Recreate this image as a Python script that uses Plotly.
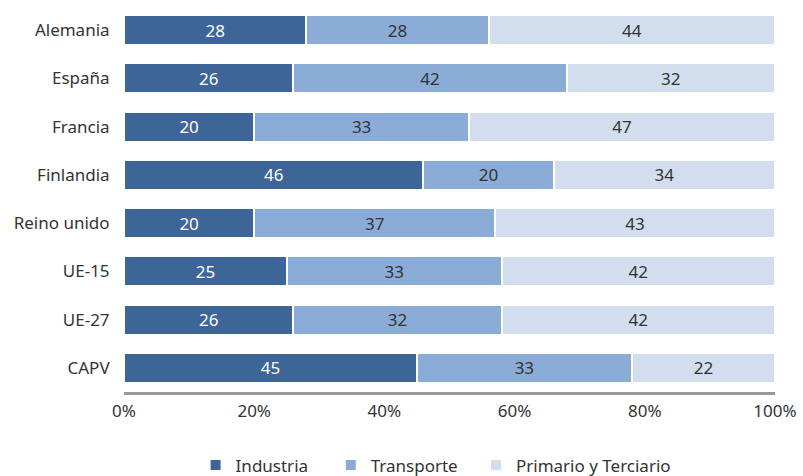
import plotly.graph_objects as go

categories = ["Alemania", "España", "Francia", "Finlandia", "Reino unido", "UE-15", "UE-27", "CAPV"]
industria = [28, 26, 20, 46, 20, 25, 26, 45]
transporte = [28, 42, 33, 20, 37, 33, 32, 33]
primario = [44, 32, 47, 34, 43, 42, 42, 22]
tick_vals = [0, 20, 40, 60, 80, 100]
tick_text = ["0%", "20%", "40%", "60%", "80%", "100%"]

NB = "\u00a0"
series = [
    ("Industria" + NB * 4, industria, "#3D6598", "white"),
    ("Transporte" + NB * 3, transporte, "#8AACD6", "#333333"),
    ("Primario y Terciario", primario, "#D2DEEE", "#333333"),
]

FONT = "Noto Sans"

fig = go.Figure()
for name, vals, color, tcolor in series:
    fig.add_trace(go.Bar(
        name=name, y=categories, x=vals, orientation="h",
        marker=dict(color=color, line=dict(color="white", width=2)),
        text=[str(v) for v in vals], textposition="inside", insidetextanchor="middle",
        textangle=0, constraintext="none",
        textfont=dict(color=tcolor, size=17, family=FONT),
        width=0.62,
    ))

fig.update_layout(
    barmode="stack",
    width=803, height=476,
    margin=dict(l=124, r=28, t=6, b=84),
    plot_bgcolor="white", paper_bgcolor="white",
    font=dict(family=FONT, size=17, color="#333333"),
    xaxis=dict(range=[0, 100], tickvals=tick_vals, ticktext=tick_text,
               showgrid=False, zeroline=False, showline=True, linecolor="#999999",
               linewidth=3, ticks="outside", ticklen=2, tickcolor="white",
               automargin=False, tickfont=dict(size=17, color="#333333")),
    yaxis=dict(autorange="reversed", showgrid=False, ticks="outside", ticklen=10,
               tickcolor="white", automargin=False,
               tickfont=dict(size=17, color="#333333")),
    legend=dict(orientation="h", x=0.11, xanchor="left", xref="paper",
                y=0.022, yanchor="middle", yref="container",
                font=dict(size=17, color="#333333"), itemwidth=30,
                traceorder="normal"),
    showlegend=True,
)
fig.update_traces(cliponaxis=False)
fig.write_html("out.html", config={"displayModeBar": False},
               post_script="document.body.style.margin='0';document.body.style.padding='0';")
